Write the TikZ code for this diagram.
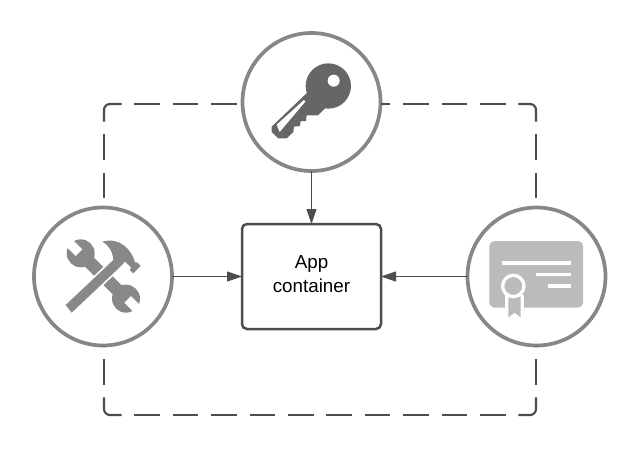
\documentclass[tikz,border=0pt]{standalone}
\usepackage{fontspec}
\setmainfont{Liberation Sans}
\usetikzlibrary{arrows.meta}
\definecolor{linedark}{HTML}{4D4D4D}
\definecolor{ringgray}{HTML}{878787}
\definecolor{keygray}{HTML}{666666}
\definecolor{toolgray}{HTML}{888888}
\definecolor{certgray}{HTML}{BBBBBB}
\tikzset{
  ring/.style={circle,draw=ringgray,fill=white,line width=3.7pt,minimum size=138pt,inner sep=0pt,outer sep=0pt},
  appbox/.style={rectangle,draw=linedark,fill=white,line width=2.5pt,rounded corners=5pt,minimum width=139pt,minimum height=105pt,inner sep=0pt,outer sep=0pt,font=\fontsize{18.8}{23}\selectfont},
  feed/.style={draw=linedark,line width=1pt,-{Triangle[length=15pt,width=10pt,fill=linedark]}},
  dashline/.style={draw=linedark,line width=2.2pt,dash pattern=on 25.6pt off 12.8pt},
  cornerline/.style={draw=linedark,line width=2.2pt,rounded corners=6pt},
  zoomed/.style={x=0.33333pt,y=-0.33333pt}
}
\begin{document}
\begin{tikzpicture}[x=1pt,y=-1pt]
\useasboundingbox (0,0) rectangle (640,450);
% frame coordinates
\coordinate (tl) at (104,104);
\coordinate (tr) at (536,104);
\coordinate (bl) at (104,415);
\coordinate (br) at (536,415);
\coordinate (tla) at (134.4,104);
\coordinate (tra) at (505.6,104);
\coordinate (bla) at (134.4,415);
\coordinate (bra) at (505.6,415);
\coordinate (lta) at (104,134.4);
\coordinate (rta) at (536,134.4);
\coordinate (lba) at (104,384.6);
\coordinate (rba) at (536,384.6);
% nodes
\node[ring] (key) at (311.5,102) {};
\node[ring] (tools) at (103,276.5) {};
\node[ring] (cert) at (536.5,276.5) {};
\node[appbox] (app) at (311.5,276.5) {\raisebox{0.6pt}[\height][\depth]{\begin{tabular}{@{}c@{}}App\\[0.8pt]container\end{tabular}}};
% dashes
\draw[dashline] (tla) -- (key.west |- tla);
\draw[dashline] (tra) -- (key.east |- tra);
\draw[dashline] (lta) -- (tools.north -| lta);
\draw[dashline] (rta) -- (cert.north -| rta);
\draw[dashline] (lba) -- (tools.south -| lba);
\draw[dashline] (rba) -- (cert.south -| rba);
\draw[dashline] (bla) -- (bra);
\draw[cornerline] (121.6,104) -- (tl) -- (104,121.6);
\draw[cornerline] (518.4,104) -- (tr) -- (536,121.6);
\draw[cornerline] (104,397.4) -- (bl) -- (121.6,415);
\draw[cornerline] (536,397.4) -- (br) -- (518.4,415);
% arrows
\draw[feed] (key) -- (app);
\draw[feed] (tools) -- (tools -| app.west);
\draw[feed] (cert) -- (cert -| app.east);
% key icon
\begin{scope}[shift={(230,10)},zoomed]
\fill[keygray] (295,228) circle [radius=68];
\fill[keygray] (240,240) -- (125,350) -- (125,366) -- (145,385) -- (170,385) -- (190,366) -- (192,350) -- (210,348) -- (212,333) -- (228,333) -- (230,316) -- (264,316) -- (300,280) -- cycle;
\fill[white] (140,344) -- (222,270) -- (226,275) -- (149,366) -- cycle;
\fill[white] (311,212) circle [radius=18];
\end{scope}
% tools icon
\begin{scope}[shift={(25,200)},zoomed]
\fill[toolgray] (167,160) circle [radius=42];
\fill[toolgray] (303,296) circle [radius=42];
\fill[toolgray] (180.5,146.5) -- (316.5,282.5) -- (289.5,309.5) -- (153.5,173.5) -- cycle;
\fill[white] (172,148) -- (152,168) -- (92,108) -- (112,88) -- cycle;
\fill[white] (318,288) -- (298,308) -- (358,368) -- (378,348) -- cycle;
\def\hammerpath{(122,315) -- (265,180) .. controls (262,150) and (250,135) .. (232,125)
  .. controls (285,110) and (320,150) .. (330,187) -- (338,188) -- (347,198) -- (325,220) -- (315,210) -- (318,202) -- (300,185) -- (283,203) -- (140,338) -- cycle}
\draw[white,line width=3.4pt] \hammerpath;
\fill[toolgray] \hammerpath;
\end{scope}
% certificate icon
\begin{scope}[shift={(455,200)},zoomed]
\fill[certgray,rounded corners=5pt] (103,123) rectangle (384,323);
\fill[white] (140,182) rectangle (349,196);
\fill[white] (243,218) rectangle (349,229);
\fill[white] (278,253) rectangle (349,265);
\fill[white] (150,285) rectangle (208,323);
\fill[certgray] (160,290) -- (197,290) -- (197,352) -- (179,338) -- (160,352) -- cycle;
\fill[certgray,draw=white,line width=3.3pt] (175,258) circle [radius=32];
\end{scope}
\end{tikzpicture}
\end{document}
